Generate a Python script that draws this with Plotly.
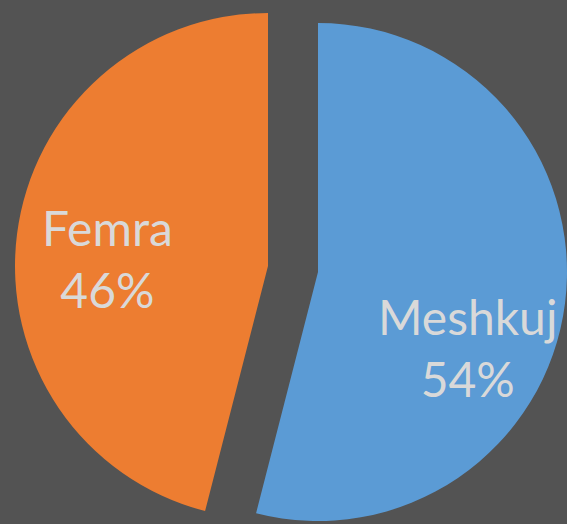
import plotly.graph_objects as go

labels = ["Meshkuj", "Femra"]
values = [54, 46]
colors = ["#5b9bd5", "#ed7d31"]
bg = "#535353"

W, H = 567, 524

fig = go.Figure()

total = sum(values)
centers = [(318, 272), (268, 266)]
radii = [249, 253]
label_pos = [(467, 347), (107, 258)]
for i in range(len(labels)):
    cx, cy = centers[i]
    r = radii[i]
    x0 = max(0, (cx - r) / W); x1 = min(1, (cx + r) / W)
    y0 = max(0, (H - cy - r) / H); y1 = min(1, (H - cy + r) / H)
    cols = [c if j == i else "rgba(0,0,0,0)" for j, c in enumerate(colors)]
    fig.add_trace(go.Pie(
        labels=labels, values=values, sort=False, direction="clockwise",
        rotation=0, domain=dict(x=[x0, x1], y=[y0, y1]),
        marker=dict(colors=cols, line=dict(width=0)),
        textinfo="none", hoverinfo="label+percent", showlegend=False,
    ))
    lx, ly = label_pos[i]
    pct = round(100 * values[i] / total)
    fig.add_annotation(
        x=lx / W, y=(H - ly) / H, xref="paper", yref="paper",
        xanchor="center", yanchor="middle", showarrow=False,
        text=f"{labels[i]}<br>{pct}%",
        font=dict(family="Lato, Carlito, sans-serif", size=48, color="#d9d9d9"),
    )

fig.update_layout(
    width=W, height=H, margin=dict(l=0, r=0, t=0, b=0),
    paper_bgcolor=bg, plot_bgcolor=bg, showlegend=False,
)
fig.write_html("out.html", config={"displayModeBar": False},
               post_script="document.body.style.margin='0';document.body.style.overflow='hidden';")
